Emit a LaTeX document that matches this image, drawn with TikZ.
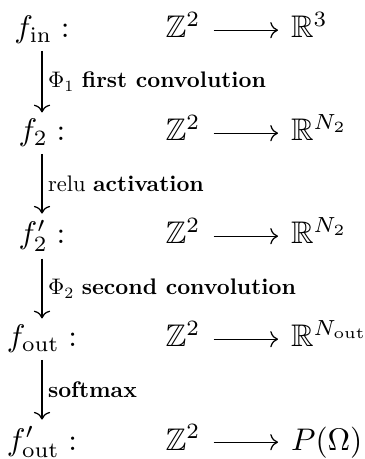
\documentclass[tikz,border=0pt]{standalone}
\usepackage{amsmath,amssymb}
\usetikzlibrary{arrows.meta,positioning}

\begin{document}
\begin{tikzpicture}[x=0.32pt,y=-0.32pt,>={To},
    cell/.style={inner xsep=4pt,inner ysep=2pt},
    fname/.style={cell,anchor=base},
    dom/.style={cell,anchor=base,text height=7pt,text depth=2pt},
    codom/.style={cell,anchor=base west},
    map/.style={->,line width=0.4pt},
    steplabel/.style={right,inner xsep=2.5pt,scale=0.72}]
  \useasboundingbox (0,0) rectangle (364,459);

  % left column: the feature maps
  \node[fname] (fin)   at (42,38)  {$f_{\mathrm{in}}:$};
  \node[fname] (f2)    at (42,141) {$f_2:$};
  \node[fname] (f2p)   at (42,244) {$f'_2:$};
  \node[fname] (fout)  at (42,347) {$f_{\mathrm{out}}:$};
  \node[fname] (foutp) at (42,450) {$f'_{\mathrm{out}}:$};

  % domains
  \node[dom] (zin)   at (183,38)  {$\mathbb{Z}^2$};
  \node[dom] (z2)    at (183,141) {$\mathbb{Z}^2$};
  \node[dom] (z2p)   at (183,244) {$\mathbb{Z}^2$};
  \node[dom] (zout)  at (183,347) {$\mathbb{Z}^2$};
  \node[dom] (zoutp) at (183,450) {$\mathbb{Z}^2$};

  % codomains
  \node[codom] (rin)   at (278,38)  {$\mathbb{R}^3$};
  \node[codom] (r2)    at (278,141) {$\mathbb{R}^{N_2}$};
  \node[codom] (r2p)   at (278,244) {$\mathbb{R}^{N_2}$};
  \node[codom] (rout)  at (278,347) {$\mathbb{R}^{N_{\mathrm{out}}}$};
  \node[codom] (routp) at (278,450) {$P(\Omega)$};

  \foreach \a/\b in {zin/rin,z2/r2,z2p/r2p,zout/rout,zoutp/routp}
    \draw[map] (\a.east) -- (\a.east -| \b.west);

  % network steps
  \draw[map] (fin) -- (f2)
    node[steplabel,midway] {$\Phi_1$ \textbf{first convolution}};
  \draw[map] (f2) -- (f2p)
    node[steplabel,midway] {relu \textbf{activation}};
  \draw[map] (f2p) -- (fout)
    node[steplabel,midway] {$\Phi_2$ \textbf{second convolution}};
  \draw[map] (fout) -- (foutp)
    node[steplabel,midway] {\textbf{softmax}};
\end{tikzpicture}
\end{document}
